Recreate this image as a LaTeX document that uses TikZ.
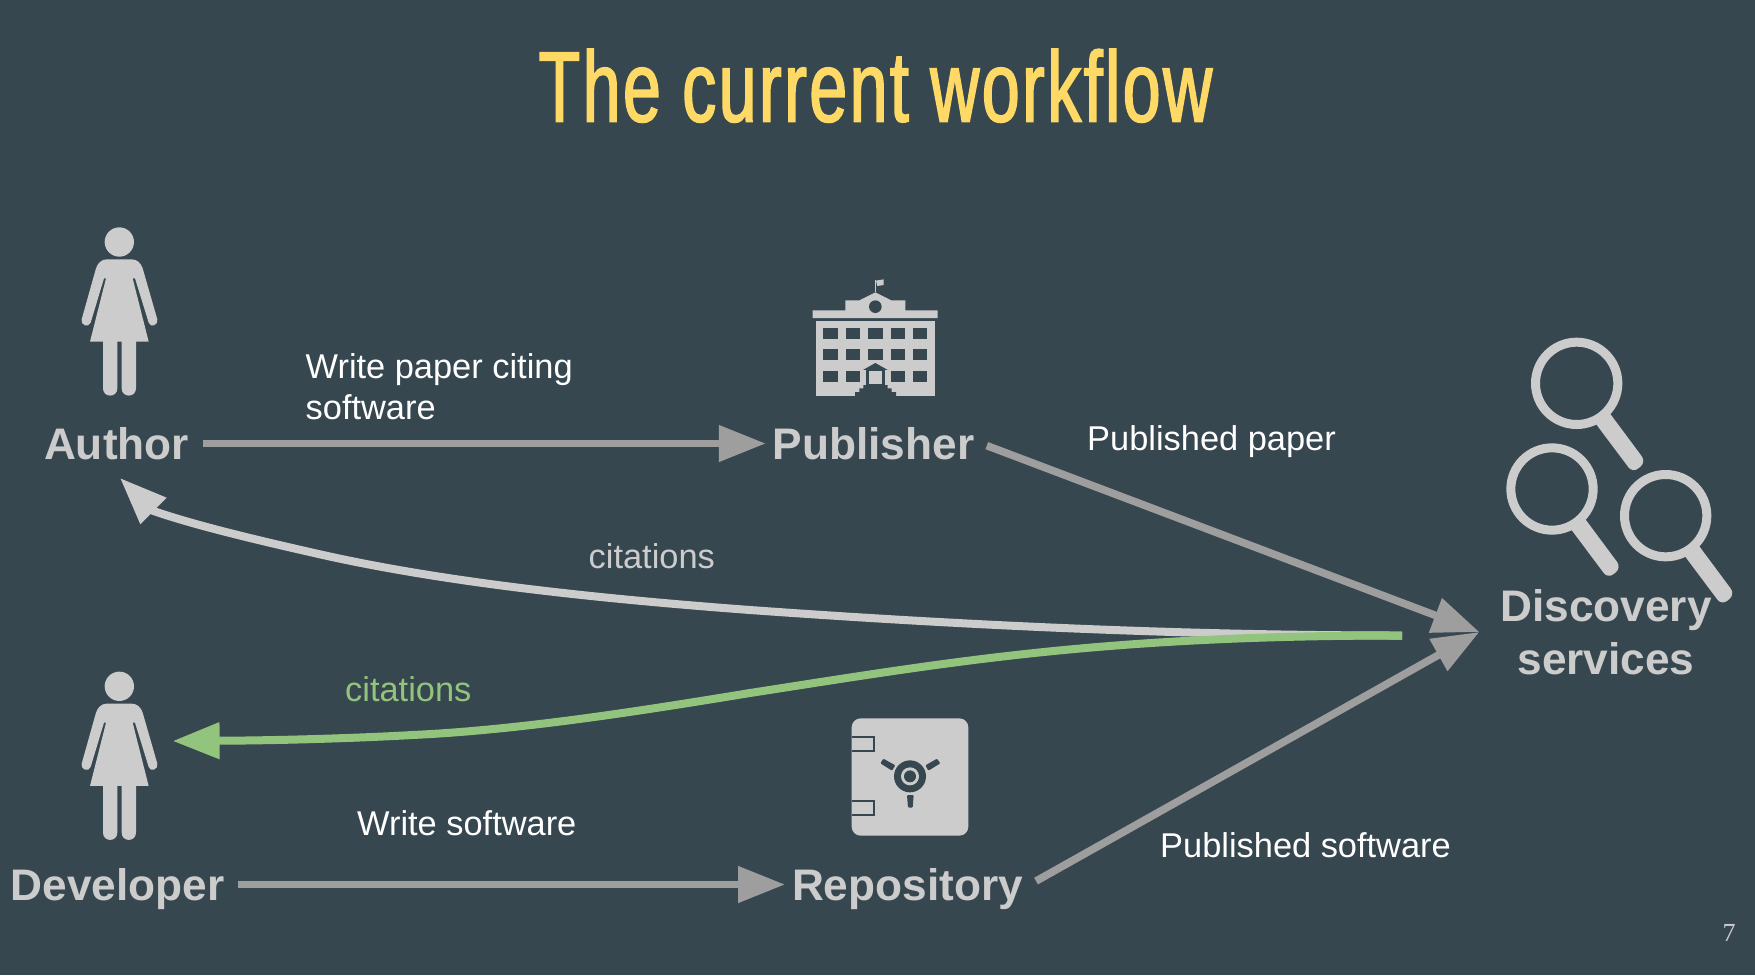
\documentclass[tikz,border=0pt]{standalone}
\usepackage{fontspec}
\setmainfont{Liberation Sans}
\newfontfamily\titlefont[FakeStretch=0.68,FakeBold=1.6,LetterSpace=2.5]{Liberation Sans}
\newfontfamily\numfont{Liberation Serif}
\usetikzlibrary{arrows.meta}
\definecolor{slidebg}{HTML}{37474F}
\definecolor{titlecol}{HTML}{FFD966}
\definecolor{icongrey}{HTML}{CCCCCC}
\definecolor{arrowgrey}{HTML}{9E9E9E}
\definecolor{citegreen}{HTML}{93C47D}
\tikzset{
  iconfill/.style={fill=icongrey,draw=none},
  cutfill/.style={fill=slidebg,draw=none},
  actor/.style={font=\fontsize{44.2}{52}\selectfont\bfseries,text=icongrey,inner sep=0pt,outer xsep=7pt,
     text height=31pt,text depth=0pt,anchor=center},
  edgelabel/.style={font=\fontsize{34.4}{41}\selectfont,text=white,inner sep=0pt,anchor=base west},
  flowarrow/.style={draw=arrowgrey,line width=7.6pt,-{Triangle[length=47pt,width=35pt]}},
  citearrow/.style={line width=8pt,-{Triangle[length=47pt,width=35pt]}},
  zoomA/.style={x=0.33333pt,y=-0.33333pt},
}
\newcommand{\personicon}[1]{%
  \begin{scope}[shift={(40,#1)},zoomA]
    \fill[iconfill] (238,96) circle[radius=44];
    \fill[iconfill] (200,148) -- (275,148) .. controls (292,148) and (303,160) .. (308,175)
      -- (352,328) .. controls (356,345) and (331,355) .. (326,338) -- (285,205) -- (278,205)
      -- (326,395) -- (288,395) -- (288,535) .. controls (288,564) and (245,564) .. (245,535)
      -- (245,395) -- (232,395) -- (232,535) .. controls (232,564) and (189,564) .. (189,535)
      -- (189,395) -- (150,395) -- (198,205) -- (192,205) -- (152,338)
      .. controls (146,355) and (120,345) .. (125,328) -- (168,175)
      .. controls (173,160) and (184,148) .. (200,148) -- cycle;
  \end{scope}}
\newcommand{\lensicon}[2]{%
  \begin{scope}[shift={(1480,320)},zoomA,shift={(#1,#2)}]
    \draw[icongrey,line width=9pt] (290,190) circle[radius=123.5];
    \fill[iconfill] (345,308) -- (388,278) [rounded corners=7pt] -- (498,426) -- (458,459) [sharp corners] -- cycle;
  \end{scope}}
\begin{document}
\begin{tikzpicture}[x=1pt,y=-1pt]
\useasboundingbox (0,0) rectangle (1755,975);
\fill[slidebg] (0,0) rectangle (1755,975);

% title
\node[text=titlecol,inner sep=0pt,anchor=base] (title) at (875.5,121.5)
  {\titlefont\fontsize{100}{110}\selectfont The current workflow};

% person icons
\personicon{210}
\personicon{654.3}

% publisher icon
\begin{scope}[shift={(790,260)},zoomA]
  \fill[iconfill] (255,97) rectangle (259,60);
  \fill[iconfill] (258,62) -- (281,58) -- (281,75) -- (262,78) -- cycle;
  \fill[iconfill] (68,151) -- (166,151) -- (166,121) -- (208,121) -- (256,97) -- (304,121)
     -- (346,121) -- (346,151) -- (443,151) -- (443,174) -- (68,174) -- cycle;
  \fill[cutfill] (256,140) circle[radius=19];
  \fill[iconfill] (77,182) rectangle (435,407);
  \foreach \wx in {100,167,235,302,369}
    \foreach \wy in {205,268}
      \fill[cutfill] (\wx,\wy) rectangle ++(43,33);
  \foreach \wx in {100,167,302,369}
    \fill[cutfill] (\wx,332) rectangle ++(43,33);
  \fill[iconfill] (212,331) -- (256,302) -- (300,331) -- cycle;
  \fill[cutfill] (217,331) -- (256,309) -- (295,331) -- cycle;
  \fill[iconfill] (217,331) rectangle (295,378);
  \fill[cutfill] (228,330) rectangle (285,375);
  \fill[iconfill] (238,333) rectangle (275,372);
  \fill[cutfill] (228,375) -- (220,375) -- (220,385) -- (208,385) -- (208,396) -- (195,396) -- (195,408)
     -- (318,408) -- (318,396) -- (305,396) -- (305,385) -- (293,385) -- (293,375) -- cycle;
\end{scope}

% repository icon
\begin{scope}[shift={(830,700)},zoomA]
  \fill[iconfill,rounded corners=9pt] (65,55) rectangle (415,407);
  \draw[slidebg,line width=2pt] (65,110) -- (133,110) -- (133,153) -- (65,153);
  \draw[slidebg,line width=2pt] (65,303) -- (133,303) -- (133,346) -- (65,346);
  \fill[cutfill] (240,229) circle[radius=48];
  \fill[iconfill] (240,229) circle[radius=27];
  \fill[cutfill] (240,229) circle[radius=18];
  \fill[cutfill,rounded corners=1pt] (160,176) -- (151,190) -- (186,212) -- (196,196) -- cycle;
  \fill[cutfill,rounded corners=1pt] (321,176) -- (331,190) -- (295,212) -- (286,196) -- cycle;
  \fill[cutfill,rounded corners=1pt] (231,285) -- (251,285) -- (248,323) -- (234,323) -- cycle;
\end{scope}

% discovery icon
\lensicon{0}{0}
\lensicon{-74}{317}
\lensicon{267}{397}

% actors
\node[actor] (author) at (116.5,443.5) {Author};
\node[actor] (publisher) at (873.5,443.5) {Publisher};
\node[actor] (developer) at (117.5,884.5) {Developer};
\node[actor] (repository) at (907.5,884.5) {Repository};
\node[font=\fontsize{44.2}{53}\selectfont\bfseries,text=icongrey,inner sep=0pt,outer xsep=21pt,align=center] (discovery)
  at (1606,632) {Discovery\\services};

% named free ends
\coordinate (hub) at (1402,635.5);
\coordinate (authorin) at (120,478);
\coordinate (developerin) at (172.6,741);

% straight flows
\draw[flowarrow,shorten <=7pt] (author.east) -- (publisher.west);
\draw[flowarrow,shorten <=6pt] (publisher.east) -- (discovery.west);
\draw[flowarrow,shorten <=7pt] (developer.east) -- (repository.west);
\draw[flowarrow,shorten <=7pt] (repository.east) -- (discovery.west);

% citation curves
\draw[citearrow,draw=icongrey] (hub)
  .. controls (1180,635.5) and (960,625) .. (750,610)
  .. controls (610,599.5) and (453,584) .. (323,555)
  .. controls (270,543) and (200,527) .. (153.5,511)
  -- (authorin);
\draw[citearrow,draw=citegreen] (hub)
  .. controls (1100,635.5) and (950,662) .. (750,693)
  .. controls (640,711) and (520,730) .. (412.5,735)
  .. controls (360,738) and (280,740.5) .. (219.6,740.7)
  -- (developerin);

% labels
\node[edgelabel,anchor=north west,align=left] (writepaper) at (305.5,353.5) {Write paper citing\\software};
\node[edgelabel] (publishedpaper) at (1087,450) {Published paper};
\node[edgelabel,text=icongrey] (citeauthor) at (588.5,568) {citations};
\node[edgelabel,text=citegreen] (citedev) at (345,701.5) {citations};
\node[edgelabel] (writesoft) at (357,835) {Write software};
\node[edgelabel] (publishedsoft) at (1160,857) {Published software};
\node[text=icongrey,inner sep=0pt,anchor=base] (pagenum) at (1729,941) {\numfont\fontsize{26}{28}\selectfont 7};
\end{tikzpicture}
\end{document}
